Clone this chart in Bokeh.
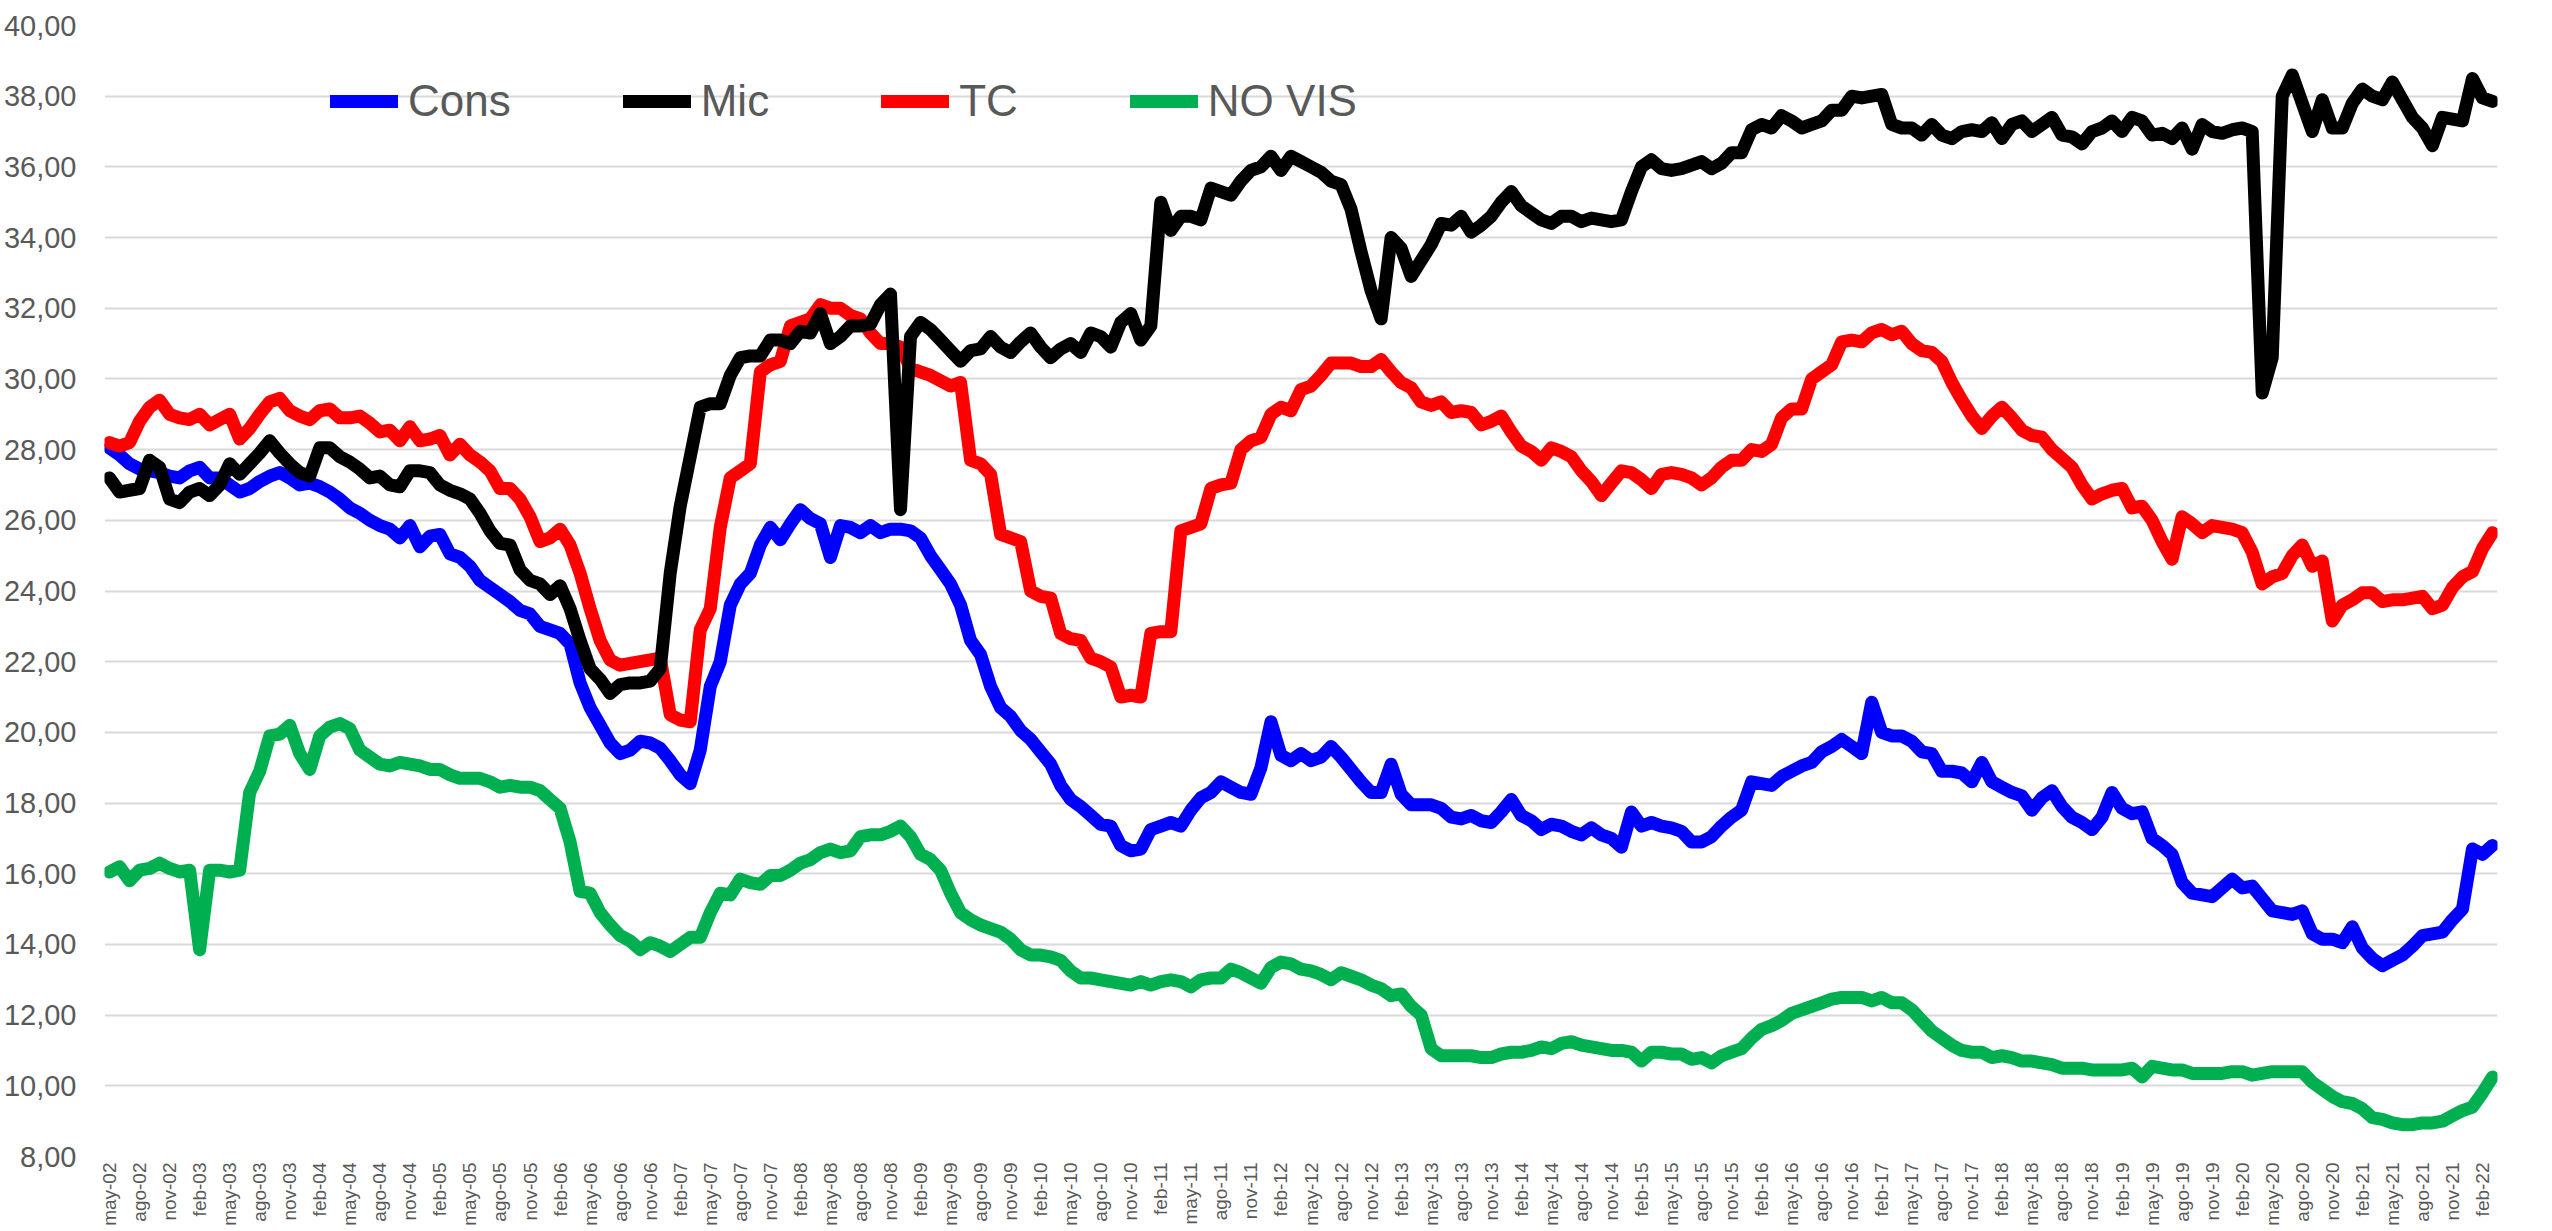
import math
from bokeh.plotting import figure
from bokeh.models import FixedTicker, Legend, LegendItem, Range1d, ColumnDataSource
from bokeh.embed import file_html
from bokeh.resources import INLINE

# ---------------- data ----------------
month_names = ["ene", "feb", "mar", "abr", "may", "jun", "jul", "ago", "sep", "oct", "nov", "dic"]
start_year, start_month = 2002, 4  # may-02
n_months = 239
month_labels = [f"{month_names[(start_month + i) % 12]}-{(start_year + (start_month + i) // 12) % 100:02d}"
                for i in range(n_months)]
x_tick_idx = list(range(0, n_months, 3))

y_ticks = [8, 10, 12, 14, 16, 18, 20, 22, 24, 26, 28, 30, 32, 34, 36, 38, 40]
y_tick_labels = [f"{t},00" for t in y_ticks]

cons = [28.05, 27.85, 27.6, 27.45, 27.4, 27.35, 27.25, 27.2, 27.4, 27.5,
        27.2, 27.2, 27.0, 26.8, 26.9, 27.1, 27.25, 27.35, 27.2, 27.0,
        27.05, 26.95, 26.8, 26.6, 26.35, 26.2, 26.0, 25.85, 25.75, 25.5,
        25.85, 25.25, 25.55, 25.6, 25.05, 24.95, 24.7, 24.3, 24.1, 23.9,
        23.7, 23.45, 23.35, 23.0, 22.9, 22.8, 22.5, 21.4, 20.7, 20.2,
        19.7, 19.4, 19.5, 19.75, 19.7, 19.55, 19.2, 18.8, 18.55, 19.5,
        21.3, 22.0, 23.6, 24.2, 24.5, 25.3, 25.8, 25.45, 25.9, 26.3,
        26.05, 25.9, 24.95, 25.85, 25.8, 25.65, 25.85, 25.65, 25.75, 25.75,
        25.7, 25.5, 25.0, 24.6, 24.2, 23.6, 22.6, 22.2, 21.3, 20.7,
        20.45, 20.05, 19.8, 19.45, 19.1, 18.5, 18.1, 17.9, 17.65, 17.4,
        17.35, 16.8, 16.65, 16.7, 17.25, 17.35, 17.45, 17.35, 17.8, 18.15,
        18.3, 18.6, 18.45, 18.3, 18.25, 19.0, 20.3, 19.35, 19.2, 19.4,
        19.2, 19.3, 19.6, 19.3, 18.95, 18.6, 18.3, 18.3, 19.1, 18.25,
        17.95, 17.95, 17.95, 17.85, 17.6, 17.55, 17.65, 17.5, 17.45, 17.75,
        18.1, 17.65, 17.5, 17.25, 17.4, 17.35, 17.2, 17.1, 17.3, 17.1,
        17.0, 16.75, 17.75, 17.35, 17.45, 17.35, 17.3, 17.2, 16.9, 16.9,
        17.05, 17.35, 17.6, 17.8, 18.6, 18.55, 18.5, 18.75, 18.9, 19.05,
        19.15, 19.45, 19.6, 19.8, 19.6, 19.4, 20.85, 20.0, 19.9, 19.9,
        19.75, 19.45, 19.4, 18.9, 18.9, 18.85, 18.6, 19.15, 18.6, 18.45,
        18.3, 18.2, 17.8, 18.15, 18.35, 17.9, 17.6, 17.45, 17.25,
        17.6, 18.3, 17.85, 17.7, 17.75, 17.0, 16.8, 16.55, 15.75, 15.45,
        15.4, 15.35, 15.6, 15.85, 15.6, 15.65, 15.3, 14.95, 14.9, 14.85,
        14.95, 14.3, 14.15, 14.15, 14.05, 14.5, 13.9, 13.6, 13.4, 13.55,
        13.7, 13.95, 14.25, 14.3, 14.35, 14.7, 15.0, 16.7, 16.55, 16.8]

mic = [27.2, 26.8, 26.85, 26.9, 27.7, 27.5, 26.6, 26.5, 26.8, 26.9,
       26.7, 27.0, 27.6, 27.3, 27.6, 27.9, 28.25, 27.9, 27.6, 27.35,
       27.25, 28.05, 28.05, 27.8, 27.65, 27.45, 27.2, 27.25, 27.0, 26.95,
       27.4, 27.4, 27.35, 27.0, 26.85, 26.75, 26.6, 26.2, 25.7, 25.35,
       25.3, 24.6, 24.3, 24.2, 23.9, 24.15, 23.5, 22.6, 21.8, 21.5,
       21.1, 21.35, 21.4, 21.4, 21.45, 21.8, 24.5, 26.4, 27.8, 29.2,
       29.3, 29.3, 30.1, 30.6, 30.65, 30.65, 31.1, 31.1, 31.0, 31.35,
       31.3, 31.85, 31.0, 31.2, 31.5, 31.5, 31.55, 32.1, 32.4, 26.3,
       31.2, 31.6, 31.4, 31.1, 30.8, 30.5, 30.8, 30.85, 31.2, 30.9,
       30.75, 31.05, 31.3, 30.9, 30.6, 30.85, 31.0, 30.75, 31.3, 31.2,
       30.9, 31.6, 31.85, 31.1, 31.5, 35.0, 34.2, 34.6, 34.6, 34.5,
       35.4, 35.3, 35.2, 35.6, 35.9, 36.0, 36.3, 35.9, 36.3, 36.15,
       36.0, 35.85, 35.6, 35.5, 34.8, 33.6, 32.5, 31.7, 34.0, 33.7,
       32.9, 33.35, 33.8, 34.4, 34.35, 34.6, 34.15, 34.35, 34.6, 35.0,
       35.3, 34.9, 34.7, 34.5, 34.4, 34.6, 34.6, 34.45, 34.55, 34.5,
       34.45, 34.5, 35.3, 36.0, 36.2, 35.95, 35.9, 35.95, 36.05, 36.15,
       35.95, 36.1, 36.4, 36.4, 37.05, 37.2, 37.1, 37.45, 37.3, 37.1,
       37.2, 37.3, 37.6, 37.6, 38.0, 37.95, 38.0, 38.05, 37.2, 37.1,
       37.1, 36.9, 37.2, 36.9, 36.8, 37.0, 37.05, 37.0, 37.25, 36.8,
       37.2, 37.3, 37.0, 37.2, 37.4, 36.9, 36.85, 36.65, 37.0,
       37.1, 37.3, 37.0, 37.4, 37.3, 36.9, 36.95, 36.8, 37.1, 36.5,
       37.2, 37.0, 36.95, 37.05, 37.1, 37.0, 29.6, 30.6, 38.0, 38.6,
       37.8, 37.0, 37.9, 37.1, 37.1, 37.8, 38.2, 38.0, 37.9, 38.4,
       37.9, 37.4, 37.1, 36.6, 37.4, 37.35, 37.3, 38.5, 37.95, 37.85]

tc = [28.2, 28.1, 28.2, 28.8, 29.2, 29.4, 29.0, 28.9, 28.85, 29.0,
      28.7, 28.85, 29.0, 28.3, 28.6, 29.0, 29.35, 29.45, 29.1, 28.95,
      28.85, 29.1, 29.15, 28.9, 28.9, 28.95, 28.75, 28.5, 28.55, 28.25,
      28.65, 28.25, 28.3, 28.4, 27.85, 28.15, 27.85, 27.65, 27.4, 26.9,
      26.9, 26.6, 26.1, 25.4, 25.5, 25.75, 25.3, 24.5, 23.5, 22.6,
      22.05, 21.9, 21.95, 22.0, 22.05, 22.1, 20.5, 20.35, 20.3, 22.9,
      23.5, 25.8, 27.2, 27.4, 27.6, 30.2, 30.4, 30.5, 31.5, 31.6,
      31.7, 32.1, 32.0, 32.0, 31.8, 31.7, 31.3, 31.0, 31.0, 30.9,
      30.3, 30.2, 30.1, 29.95, 29.8, 29.9, 27.7, 27.6, 27.3, 25.6,
      25.5, 25.4, 24.0, 23.85, 23.8, 22.8, 22.65, 22.6, 22.1, 22.0,
      21.85, 21.0, 21.05, 21.0, 22.8, 22.85, 22.85, 25.7, 25.8, 25.9,
      26.9, 27.0, 27.05, 28.0, 28.25, 28.35, 29.0, 29.2, 29.1, 29.7,
      29.8, 30.1, 30.45, 30.45, 30.45, 30.35, 30.35, 30.55, 30.2, 29.9,
      29.75, 29.35, 29.25, 29.35, 29.05, 29.1, 29.05, 28.7, 28.8, 28.95,
      28.5, 28.1, 27.95, 27.7, 28.05, 27.95, 27.8, 27.4, 27.1, 26.7,
      27.05, 27.4, 27.35, 27.15, 26.9, 27.3, 27.35, 27.3, 27.2, 27.0,
      27.2, 27.5, 27.7, 27.7, 28.0, 27.95, 28.15, 28.9, 29.15, 29.15,
      30.0, 30.2, 30.4, 31.05, 31.1, 31.05, 31.3, 31.4, 31.25, 31.35,
      31.0, 30.8, 30.75, 30.5, 29.9, 29.4, 28.95, 28.6, 28.95, 29.2,
      28.9, 28.55, 28.4, 28.35, 28.0, 27.75, 27.5, 27.0, 26.6,
      26.75, 26.85, 26.9, 26.35, 26.4, 26.0, 25.4, 24.9, 26.1, 25.9,
      25.65, 25.85, 25.8, 25.75, 25.65, 25.1, 24.2, 24.4, 24.5, 25.0,
      25.3, 24.7, 24.85, 23.15, 23.6, 23.75, 23.95, 23.95, 23.7, 23.75,
      23.75, 23.8, 23.85, 23.5, 23.6, 24.1, 24.4, 24.55, 25.2, 25.65]

novis = [16.05, 16.2, 15.8, 16.1, 16.15, 16.3, 16.15, 16.05, 16.1, 13.85,
         16.1, 16.1, 16.05, 16.1, 18.3, 18.9, 19.9, 19.95, 20.2, 19.4,
         18.95, 19.9, 20.15, 20.25, 20.1, 19.5, 19.3, 19.1, 19.05, 19.15,
         19.1, 19.05, 18.95, 18.95, 18.8, 18.7, 18.7, 18.7, 18.6, 18.45,
         18.5, 18.45, 18.45, 18.35, 18.1, 17.85, 16.9, 15.5, 15.45, 14.9,
         14.55, 14.25, 14.1, 13.85, 14.05, 13.95, 13.8, 14.0, 14.2, 14.2,
         14.9, 15.45, 15.4, 15.85, 15.75, 15.7, 15.95, 15.95, 16.1, 16.3,
         16.4, 16.6, 16.7, 16.6, 16.65, 17.05, 17.1, 17.1, 17.2, 17.35,
         17.05, 16.55, 16.4, 16.1, 15.45, 14.9, 14.7, 14.55, 14.45, 14.35,
         14.15, 13.85, 13.7, 13.7, 13.65, 13.55, 13.25, 13.05, 13.05, 13.0,
         12.95, 12.9, 12.85, 12.95, 12.85, 12.95, 13.0, 12.95, 12.8, 13.0,
         13.05, 13.05, 13.3, 13.2, 13.05, 12.9, 13.35, 13.5, 13.45, 13.3,
         13.25, 13.15, 13.0, 13.2, 13.1, 13.0, 12.85, 12.75, 12.55, 12.6,
         12.25, 12.0, 11.05, 10.85, 10.85, 10.85, 10.85, 10.8, 10.8, 10.9,
         10.95, 10.95, 11.0, 11.1, 11.05, 11.2, 11.25, 11.15, 11.1, 11.05,
         11.0, 11.0, 10.95, 10.7, 10.95, 10.95, 10.9, 10.9, 10.75, 10.8,
         10.65, 10.85, 10.95, 11.05, 11.35, 11.6, 11.7, 11.85, 12.05, 12.15,
         12.25, 12.35, 12.45, 12.5, 12.5, 12.5, 12.4, 12.5, 12.35, 12.35,
         12.15, 11.85, 11.55, 11.35, 11.15, 11.0, 10.95, 10.95, 10.8, 10.85,
         10.8, 10.7, 10.7, 10.65, 10.6, 10.5, 10.5, 10.5, 10.45,
         10.45, 10.45, 10.45, 10.5, 10.25, 10.55, 10.5, 10.45, 10.45, 10.35,
         10.35, 10.35, 10.35, 10.4, 10.4, 10.3, 10.35, 10.4, 10.4, 10.4,
         10.4, 10.1, 9.9, 9.7, 9.55, 9.5, 9.35, 9.1, 9.05, 8.95,
         8.9, 8.9, 8.95, 8.95, 9.0, 9.15, 9.3, 9.4, 9.8, 10.25]

series_names = ["Cons", "Mic", "TC", "NO VIS"]
series_values = [cons, mic, tc, novis]
series_colors = ["#0000FF", "#000000", "#FF0000", "#00B050"]

for s in series_values:
    assert len(s) == n_months, len(s)

# ---------------- figure ----------------
FONT = "Liberation Sans Narrow, Arial Narrow, Liberation Sans"
TXT = "#595959"

p = figure(width=2540, height=1228, output_backend="svg", toolbar_location=None,
           x_range=Range1d(-0.5, n_months - 0.5), y_range=Range1d(8, 40),
           min_border_left=100, min_border_right=43, min_border_top=25, min_border_bottom=71)
p.outline_line_color = None
p.background_fill_color = "white"
p.border_fill_color = "white"

x = list(range(n_months))
rmap = {}
for k in [3, 0, 2, 1]:
    src = ColumnDataSource(dict(x=x, y=series_values[k]))
    rmap[k] = p.line("x", "y", source=src, line_color=series_colors[k], line_width=13,
                     line_cap="round", line_join="round")

legend = Legend(items=[LegendItem(label=series_names[k], renderers=[rmap[k]]) for k in range(4)],
                orientation="horizontal", location=(226, 1025))
legend.label_text_font = FONT
legend.label_text_font_size = "44px"
legend.label_text_color = TXT
legend.glyph_width = 68
legend.glyph_height = 60
legend.label_height = 60
legend.label_standoff = 10
legend.spacing = 112
legend.padding = 0
legend.margin = 0
legend.border_line_alpha = 0
legend.background_fill_alpha = 0
p.add_layout(legend)

# y axis
p.yaxis.ticker = FixedTicker(ticks=y_ticks)
p.yaxis.major_label_overrides = {t: l for t, l in zip(y_ticks, y_tick_labels)}
p.yaxis.major_label_text_font = FONT
p.yaxis.major_label_text_font_size = "29px"
p.yaxis.major_label_text_color = TXT
p.yaxis.major_label_standoff = 28
p.yaxis.major_tick_out = 0
p.yaxis.major_tick_in = 0
p.yaxis.axis_line_color = None
p.yaxis.major_tick_line_color = None
p.yaxis.minor_tick_line_color = None

# x axis
p.xaxis.ticker = FixedTicker(ticks=x_tick_idx)
p.xaxis.major_label_overrides = {i: month_labels[i] for i in x_tick_idx}
p.xaxis.major_label_orientation = math.pi / 2
p.xaxis.major_label_text_font = FONT
p.xaxis.major_label_text_font_size = "19px"
p.xaxis.major_label_text_color = TXT
p.xaxis.major_label_standoff = 6
p.xaxis.major_tick_out = 0
p.xaxis.major_tick_in = 0
p.xaxis.axis_line_color = None
p.xaxis.major_tick_line_color = None
p.xaxis.minor_tick_line_color = None

p.xgrid.visible = False
p.ygrid.ticker = FixedTicker(ticks=y_ticks)
p.ygrid.grid_line_color = "#D9D9D9"
p.ygrid.grid_line_width = 2

open("out.html", "w").write(file_html(p, INLINE))
